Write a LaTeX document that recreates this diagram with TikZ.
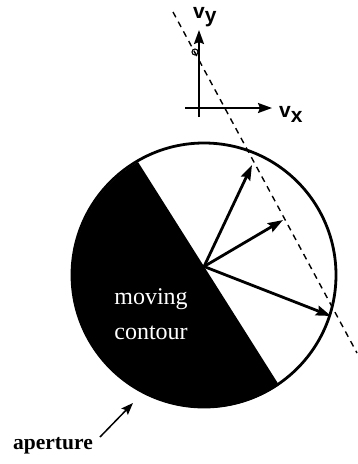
\documentclass[tikz,border=0pt]{standalone}
\usepackage{fontspec}
\setmainfont{Liberation Serif}
\newfontfamily\labelsans{Liberation Sans}
\usetikzlibrary{arrows.meta,calc}
\tikzset{
  vec/.style={line width=2.8pt,-{Stealth[length=15pt,width=10pt,inset=2pt]}},
  axis/.style={line width=2pt,-{Stealth[length=14pt,width=10pt,inset=2pt]}},
  dashline/.style={line width=1.4pt,dash pattern=on 6pt off 5pt},
  vlabel/.style={font=\labelsans\bfseries\fontsize{21}{23}\selectfont,inner sep=0pt},
}
\begin{document}
\begin{tikzpicture}[x=1pt,y=1pt]
\useasboundingbox (0,0) rectangle (358,-464);
% aperture
\coordinate (C) at (204,-275);
\coordinate (P1) at (138,-162);
\coordinate (P2) at (277,-382);
\fill[black] (P1) arc[start angle=120.3,end angle=304.3,radius=132] -- cycle;
\draw[line width=2.8pt] (C) circle[radius=132];
% vectors
\coordinate (O) at ($(P1)!0.475!(P2)$);
\coordinate (T1) at (252,-165);
\coordinate (T2) at (283,-220);
\coordinate (T3) at (331,-316);
\draw[vec] (O) -- (T1);
\draw[vec] (O) -- (T2);
\draw[vec] (O) -- (T3);
% constraint line
\coordinate (D1) at (173,-12);
\coordinate (D2) at (357,-353);
\draw[dashline] (D1) -- (D2);
% velocity axes
\coordinate (AyB) at (199,-117);
\coordinate (AyT) at (199,-30);
\coordinate (AxL) at (185,-108);
\coordinate (AxR) at (272,-108);
\draw[axis] (AyB) -- (AyT);
\draw[axis] (AxL) -- (AxR);
\draw[line width=1.1pt] (195,-52) circle[radius=3];
\node[vlabel,anchor=south west] (vy) at (193,-27) {v\raisebox{-0.35ex}{y}};
\node[vlabel,anchor=west] (vx) at (279,-114) {v\raisebox{-0.45ex}{x}};
% texts
\node[text=white,align=center,font=\fontsize{24}{35}\selectfont,inner sep=0pt] (mc) at (151,-314) {moving\\contour};
\node[font=\bfseries\fontsize{21.5}{24}\selectfont,inner sep=0pt] (ap) at (53,-446) {aperture};
\coordinate (apT) at (133,-403);
\coordinate (apS) at (100,-437);
\draw[line width=1.5pt,-{Stealth[length=12pt,width=9pt,inset=2pt]}] (apS) -- (apT);
\end{tikzpicture}
\end{document}
